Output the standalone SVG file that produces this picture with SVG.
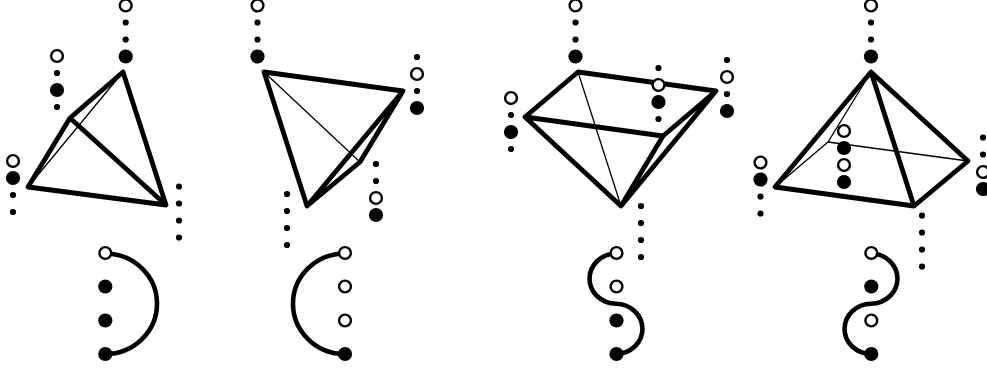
<svg xmlns="http://www.w3.org/2000/svg" width="987" height="370" viewBox="0 0 987 370">
<style>
.t{fill:none;stroke:#000;stroke-width:4.8;stroke-linecap:round;stroke-linejoin:round}
.f{fill:none;stroke:#000;stroke-width:1.3;stroke-linecap:round}
.a{fill:none;stroke:#000;stroke-width:4.6}
.o{fill:#fff;stroke:#000;stroke-width:2.4;r:5.9px}
.b{fill:#000;r:7.1px}
.s{fill:#000;r:3.1px}
</style>
<rect width="987" height="370" fill="#fff"/>
<g id="connectors">
<path class="f" d="M28 187L123 72"/>
<path class="t" d="M123 72L70 118L28 187L166 205L123 72M70 118L166 205"/>
<path class="f" d="M264 72L360 162"/>
<path class="t" d="M264 72L403 91L307 206L264 72M403 91L360 162L307 206"/>
<path class="f" d="M578 72L621 206"/>
<path class="t" d="M525 117L578 72L716 91L621 206L525 117L663 136L716 91M663 136L621 206"/>
<path class="f" d="M871 72L828 142L775 187M828 142L968 161"/>
<path class="t" d="M871 72L775 187L914 206L871 72L968 161L914 206"/>
<path class="a" d="M105 253.5A52 50.25 0 0 1 105 354"/>
<path class="a" d="M345 253.5A52 50.25 0 0 0 345 354"/>
<path class="a" d="M616 253.5A27 25.13 0 0 0 616 303.75A27 25.13 0 0 1 616 354"/>
<path class="a" d="M871 253.5A27 25.13 0 0 1 871 303.75A27 25.13 0 0 0 871 354"/>
</g>
<g id="p1-top"><circle class="o" cx="125.7" cy="5.5"/><circle class="s" cx="125.7" cy="22.5"/><circle class="s" cx="125.7" cy="39.5"/><circle class="b" cx="125.7" cy="56.5"/></g>
<g id="p1-inner"><circle class="o" cx="57" cy="56"/><circle class="s" cx="57" cy="73"/><circle class="b" cx="57" cy="90"/><circle class="s" cx="57" cy="107"/></g>
<g id="p1-left"><circle class="o" cx="13" cy="161"/><circle class="b" cx="13" cy="178"/><circle class="s" cx="13" cy="195"/><circle class="s" cx="13" cy="212"/></g>
<g id="p1-right"><circle class="s" cx="179" cy="186.5"/><circle class="s" cx="179" cy="203.5"/><circle class="s" cx="179" cy="220.5"/><circle class="s" cx="179" cy="237.5"/></g>
<g id="p1-arc"><circle class="o" cx="105.3" cy="253"/><circle class="b" cx="105.3" cy="286.5"/><circle class="b" cx="105.3" cy="320.5"/><circle class="b" cx="105.3" cy="354"/></g>
<g id="p2-top"><circle class="o" cx="257.5" cy="5.5"/><circle class="s" cx="257.5" cy="22.5"/><circle class="s" cx="257.5" cy="39.5"/><circle class="b" cx="257.5" cy="56.5"/></g>
<g id="p2-right"><circle class="s" cx="417" cy="57"/><circle class="o" cx="417" cy="74"/><circle class="s" cx="417" cy="91"/><circle class="b" cx="417" cy="108"/></g>
<g id="p2-inner"><circle class="s" cx="376" cy="164"/><circle class="s" cx="376" cy="181"/><circle class="o" cx="376" cy="198"/><circle class="b" cx="376" cy="215"/></g>
<g id="p2-bottom"><circle class="s" cx="287" cy="194"/><circle class="s" cx="287" cy="211"/><circle class="s" cx="287" cy="228"/><circle class="s" cx="287" cy="245"/></g>
<g id="p2-arc"><circle class="o" cx="345" cy="253"/><circle class="o" cx="345" cy="286.5"/><circle class="o" cx="345" cy="320.5"/><circle class="b" cx="345" cy="354"/></g>
<g id="p3-top"><circle class="o" cx="575.5" cy="5.5"/><circle class="s" cx="575.5" cy="22.5"/><circle class="s" cx="575.5" cy="39.5"/><circle class="b" cx="575.5" cy="56.5"/></g>
<g id="p3-inner"><circle class="s" cx="658.5" cy="68"/><circle class="o" cx="658.5" cy="85"/><circle class="b" cx="658.5" cy="102"/><circle class="s" cx="658.5" cy="119"/></g>
<g id="p3-right"><circle class="s" cx="727" cy="60"/><circle class="o" cx="727" cy="77"/><circle class="s" cx="727" cy="94"/><circle class="b" cx="727" cy="111"/></g>
<g id="p3-left"><circle class="o" cx="511" cy="98"/><circle class="s" cx="511" cy="115"/><circle class="b" cx="511" cy="132"/><circle class="s" cx="511" cy="149"/></g>
<g id="p3-bottom"><circle class="s" cx="641" cy="206"/><circle class="s" cx="641" cy="223"/><circle class="s" cx="641" cy="240"/><circle class="s" cx="641" cy="257"/></g>
<g id="p3-arc"><circle class="o" cx="616.5" cy="253"/><circle class="o" cx="616.5" cy="286.5"/><circle class="b" cx="616.5" cy="320.5"/><circle class="b" cx="616.5" cy="354"/></g>
<g id="p4-top"><circle class="o" cx="871" cy="5.5"/><circle class="s" cx="871" cy="22.5"/><circle class="s" cx="871" cy="39.5"/><circle class="b" cx="871" cy="56.5"/></g>
<g id="p4-inner"><circle class="o" cx="844" cy="131"/><circle class="b" cx="844" cy="148"/><circle class="o" cx="844" cy="165"/><circle class="b" cx="844" cy="182"/></g>
<g id="p4-left"><circle class="o" cx="760.5" cy="162.5"/><circle class="b" cx="760.5" cy="179.5"/><circle class="s" cx="760.5" cy="196.5"/><circle class="s" cx="760.5" cy="213.5"/></g>
<g id="p4-bottom"><circle class="s" cx="922" cy="215.5"/><circle class="s" cx="922" cy="232.5"/><circle class="s" cx="922" cy="249.5"/><circle class="s" cx="922" cy="266.5"/></g>
<g id="p4-right"><circle class="s" cx="983" cy="137.5"/><circle class="s" cx="983" cy="154.5"/><circle class="o" cx="983" cy="172"/><circle class="b" cx="983" cy="189"/></g>
<g id="p4-arc"><circle class="o" cx="871.3" cy="253"/><circle class="b" cx="871.3" cy="286.5"/><circle class="o" cx="871.3" cy="320.5"/><circle class="b" cx="871.3" cy="354"/></g>
</svg>
